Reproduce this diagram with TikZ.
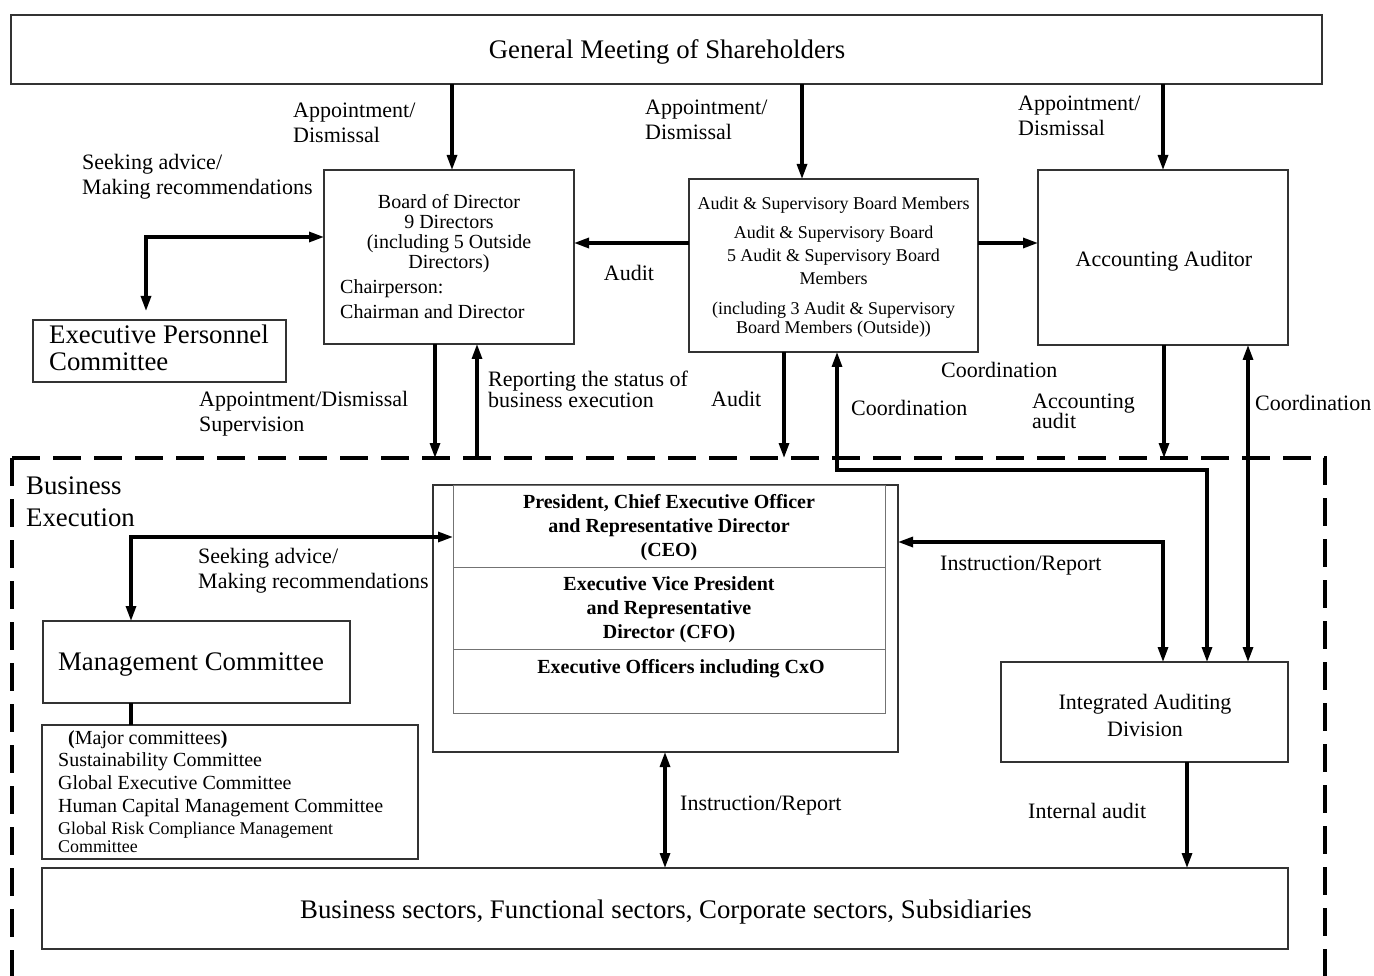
\documentclass[tikz,border=0pt]{standalone}
\usepackage{fontspec}
\setmainfont{Liberation Serif}
\usetikzlibrary{arrows.meta,calc}
\begin{document}
\begin{tikzpicture}[x=1pt,y=-1pt,
  box/.style={draw=black!80,line width=1.1pt,inner sep=0pt,outer sep=0pt,anchor=north west},
  ibox/.style={draw=black!55,line width=1pt,inner sep=0pt,outer sep=0pt,anchor=north west},
  big/.style={inner sep=0pt,align=center,font=\fontsize{26.8}{27}\selectfont},
  mid/.style={inner sep=0pt,align=center,font=\fontsize{22}{27}\selectfont},
  lbl/.style={inner sep=0pt,anchor=west,align=left,font=\fontsize{22}{25}\selectfont},
  txt/.style={inner sep=0pt,align=center},
  ceot/.style={inner sep=0pt,align=center,font=\bfseries\fontsize{20}{24}\selectfont},
  arr/.style={line width=3.1pt,-{Triangle[length=15pt,width=10pt]}},
  darr/.style={line width=3.1pt,{Triangle[length=15pt,width=10pt]}-{Triangle[length=15pt,width=10pt]}},
  frame/.style={line width=4pt,dash pattern=on 28pt off 13pt},
]
\useasboundingbox (0,0) rectangle (1374,976);

% ---------- boxes ----------
\node[box,minimum width=1311,minimum height=69] (gm) at (11,15) {};
\node[big] (gmt) at (667,52) {General Meeting of Shareholders};
\node[box,minimum width=250,minimum height=174] (board) at (324,170) {};
\node[txt,font=\fontsize{20}{20}\selectfont] (boardt) at (449,234)
  {Board of Director\\9 Directors\\(including 5 Outside\\Directors)};
\node[inner sep=0pt,anchor=west,align=left,font=\fontsize{20}{25}\selectfont] (boardc) at (340,299.5)
  {Chairperson:\\Chairman and Director};
\node[box,minimum width=289,minimum height=173] (audit) at (689,179) {};
\node[txt,font=\fontsize{18}{23}\selectfont] (auditt) at (833.5,267.5)
  {Audit \& Supervisory Board Members\\[6pt]
   Audit \& Supervisory Board\\
   5 Audit \& Supervisory Board\\
   Members\\[7pt]
   (including 3 Audit \& Supervisory\\[-4pt]
   Board Members (Outside))};
\node[box,minimum width=250,minimum height=175] (acc) at (1038,170) {};
\node[mid] (acct) at (1164,261) {Accounting Auditor};
\node[box,minimum width=253,minimum height=62] (epc) at (33,320) {};
\node[inner sep=0pt,anchor=west,align=left,font=\fontsize{26.8}{27}\selectfont] (epct) at (49,348)
  {Executive Personnel\\Committee};

% business execution
\node[inner sep=0pt,anchor=west,align=left,font=\fontsize{26.8}{32}\selectfont] (bex) at (26,502)
  {Business\\Execution};
\node[box,minimum width=465,minimum height=267] (ceoout) at (433,485) {};
\node[ibox,minimum width=432,minimum height=82] (ceo1) at (453,485) {};
\node[ibox,minimum width=432,minimum height=82] (ceo2) at (453,567) {};
\node[ibox,minimum width=432,minimum height=64] (ceo3) at (453,649) {};
\node[ceot] (ceo1t) at (669,528) {President, Chief Executive Officer\\and Representative Director\\(CEO)};
\node[ceot] (ceo2t) at (669,610) {Executive Vice President\\and Representative\\Director (CFO)};
\node[ceot] (ceo3t) at (681,669) {Executive Officers including CxO};

\node[box,minimum width=307,minimum height=82] (mc) at (43,621) {};
\node[big] (mct) at (191,665) {Management Committee};
\node[box,minimum width=376,minimum height=134] (comm) at (42,725) {};
\node[inner sep=0pt,anchor=west,align=left,font=\fontsize{20}{22.7}\selectfont] (comm1) at (58,773.5)
  {\hspace*{10pt}\textbf{(}Major committees\textbf{)}\\Sustainability Committee\\Global Executive Committee\\Human Capital Management Committee};
\node[inner sep=0pt,anchor=west,align=left,font=\fontsize{17.9}{18}\selectfont] (comm2) at (58,837.5)
  {Global Risk Compliance Management\\Committee};

\node[box,minimum width=287,minimum height=100] (iad) at (1001,662) {};
\node[mid] (iadt) at (1145,715) {Integrated Auditing\\Division};
\node[box,minimum width=1246,minimum height=81] (bs) at (42,868) {};
\node[big] (bst) at (666,912) {Business sectors, Functional sectors, Corporate sectors, Subsidiaries};

% ---------- dashed frame ----------
\coordinate (dtop) at (0,458);
\draw[frame] (12,458) -- (1325,458) -- (1325,990);
\draw[frame] (12,458) -- (12,990);

% ---------- helper coordinates ----------
\coordinate (x131) at (131,0);
\coordinate (x146) at (146,0);
\coordinate (x435) at (435,0);
\coordinate (x452) at (452,0);
\coordinate (x477) at (477,0);
\coordinate (x665) at (665,0);
\coordinate (x784) at (784,0);
\coordinate (x802) at (802,0);
\coordinate (x837) at (837,0);
\coordinate (x1163) at (1163,0);
\coordinate (x1164) at (1164,0);
\coordinate (x1187) at (1187,0);
\coordinate (x1207) at (1207,0);
\coordinate (x1248) at (1248,0);
\coordinate (y237) at (0,237);
\coordinate (y243) at (0,243);
\coordinate (y470) at (0,470);
\coordinate (y537) at (0,537);
\coordinate (y542) at (0,542);

% ---------- connectors ----------
\draw[arr] (gm.south -| x452) -- (board.north -| x452);
\draw[arr] (gm.south -| x802) -- (audit.north -| x802);
\draw[arr] (gm.south -| x1163) -- (acc.north -| x1163);
\draw[arr] (audit.west |- y243) -- (board.east |- y243);
\draw[arr] (audit.east |- y243) -- (acc.west |- y243);
\draw[darr,shorten <=9pt] (epc.north -| x146) -- (x146 |- y237) -- (board.west |- y237);
\draw[arr] (board.south -| x435) -- (x435 |- dtop);
\draw[arr] (x477 |- dtop) -- (board.south -| x477);
\draw[arr] (audit.south -| x784) -- (x784 |- dtop);
\draw[darr] (audit.south -| x837) -- (x837 |- y470) -| (iad.north -| x1207);
\draw[arr] (acc.south -| x1164) -- (x1164 |- dtop);
\draw[darr] (acc.south -| x1248) -- (iad.north -| x1248);
\draw[darr] (ceoout.east |- y542) -| (iad.north -| x1163);
\draw[darr] (mc.north -| x131) -- (x131 |- y537) -- (ceo1.west |- y537);
\draw[line width=3.1pt] (mc.south -| x131) -- (comm.north -| x131);
\draw[darr] (ceoout.south -| x665) -- (bs.north -| x665);
\draw[arr] (iad.south -| x1187) -- (bs.north -| x1187);

% ---------- labels ----------
\node[lbl] (l1) at (293,123) {Appointment/\\Dismissal};
\node[lbl] (l2) at (645,120) {Appointment/\\Dismissal};
\node[lbl] (l3) at (1018,116) {Appointment/\\Dismissal};
\node[lbl] (l4) at (82,177) {Seeking advice/\\Making recommendations};
\node[lbl,anchor=center] (l5) at (629,273) {Audit};
\node[lbl] (l6) at (199,414) {Appointment/Dismissal\\Supervision};
\node[lbl] (l7) at (488,389) {Reporting the status of\\[-4pt]business execution};
\node[lbl] (l8) at (711,399) {Audit};
\node[lbl] (l9) at (941,370) {Coordination};
\node[lbl] (l10) at (851,408) {Coordination};
\node[lbl] (l11) at (1032,411) {Accounting\\[-5pt]audit};
\node[lbl] (l12) at (1255,403) {Coordination};
\node[lbl] (l13) at (198,571) {Seeking advice/\\Making recommendations};
\node[lbl] (l14) at (940,566) {Instruction/Report};
\node[lbl] (l15) at (680,806) {Instruction/Report};
\node[lbl] (l16) at (1028,811) {Internal audit};
\end{tikzpicture}
\end{document}
